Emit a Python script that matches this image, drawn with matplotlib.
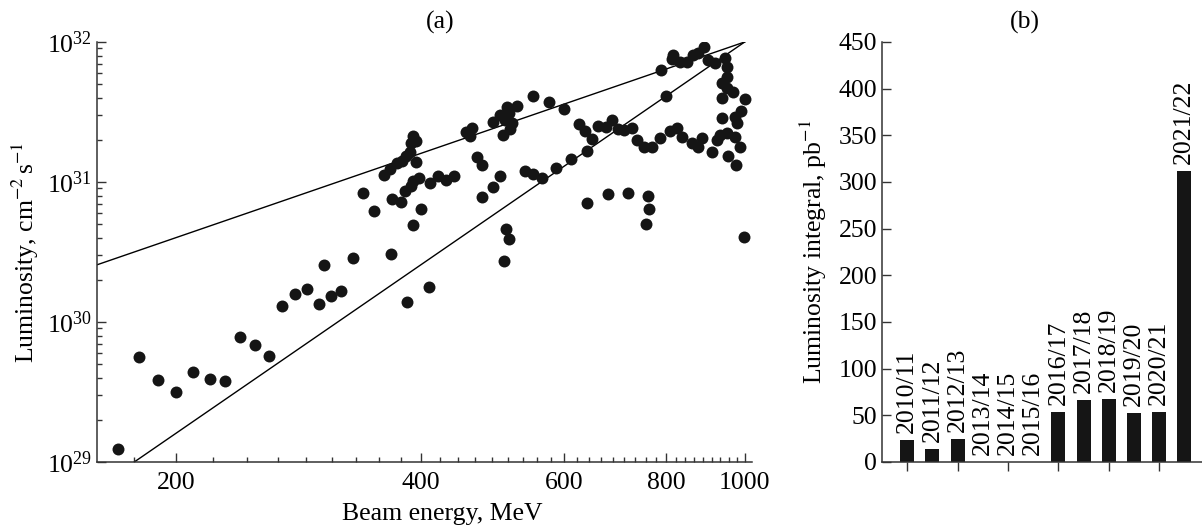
import numpy as np
import matplotlib
matplotlib.use('Agg')
import matplotlib.pyplot as plt
from matplotlib.ticker import FixedLocator, FuncFormatter, LogLocator, NullFormatter

plt.rcParams['font.family'] = ['Liberation Serif', 'DejaVu Serif']
plt.rcParams['mathtext.fontset'] = 'stix'
plt.rcParams['font.size'] = 18.5

# (a) luminosity vs beam energy
energy = [170, 180, 190, 200, 210, 220, 230, 240, 250, 260,
          270, 280, 290, 300, 304, 310, 319, 330, 340, 350,
          360, 367, 368, 369, 374, 378, 379, 382, 384, 385,
          388, 389, 389, 391, 391, 391, 394, 395, 398, 400,
          409, 410, 420, 430, 439, 455, 459, 462, 469, 476,
          476, 490, 491, 500, 501, 505, 506, 508, 509, 510,
          513, 513, 515, 517, 525, 537, 549, 550, 563, 574,
          586, 599, 612, 625, 637, 640, 640, 650, 661, 676,
          679, 686, 699, 711, 719, 726, 737, 751, 757, 760,
          763, 769, 786, 789, 800, 810, 814, 817, 825, 833,
          837, 849, 861, 865, 877, 877, 886, 890, 902, 911,
          919, 924, 933, 937, 937, 939, 946, 950, 951, 951,
          951, 955, 968, 973, 973, 976, 977, 987, 989, 998,
          1001]
# luminosity in units of 1e30 cm^-2 s^-1
lumi_1e30 = [0.124, 0.56, 0.385, 0.315, 0.44, 0.39, 0.38, 0.78, 0.69, 0.57,
             1.29, 1.59, 1.72, 1.34, 2.54, 1.53, 1.67, 2.85, 8.4, 6.2,
             11.2, 12.3, 3.05, 7.6, 13.6, 7.2, 14.2, 8.6, 15.2, 1.39,
             16.5, 18.9, 9.4, 10.2, 21.3, 4.9, 13.8, 19.7, 10.7, 6.4,
             1.79, 9.8, 11.1, 10.3, 11.1, 22.9, 21.3, 24.2, 15.0, 13.2,
             7.85, 9.2, 27.0, 11.0, 30.1, 21.7, 2.74, 27.7, 4.6, 34.2,
             31.0, 3.9, 23.8, 26.3, 34.9, 11.9, 41.1, 11.4, 10.6, 37.5,
             12.5, 33.2, 14.5, 25.8, 23.1, 16.7, 7.1, 20.2, 25.1, 24.8,
             8.2, 27.7, 23.8, 23.5, 8.4, 24.2, 20.0, 17.9, 5.0, 7.9,
             6.4, 17.9, 20.5, 63.1, 41.1, 23.1, 75.2, 80.7, 24.2, 72.3,
             21.1, 72.3, 18.9, 80.7, 83.9, 17.9, 20.5, 92.5, 74.4, 16.5,
             70.4, 20.0, 21.7, 50.7, 40.0, 28.5, 76.5, 56.5, 66.6, 46.7,
             22.3, 15.2, 44.2, 29.3, 20.9, 13.2, 26.3, 17.9, 32.3, 4.07,
             39.0]

# reference lines ~E^2 and ~E^4, end points
line_e2_energy = [160, 1000]
line_e2_lumi = [2.56e30, 1e32]
line_e4_energy = [177.8, 1000]
line_e4_lumi = [1e29, 1e32]

# (b) integrated luminosity per season
seasons = ['2010/11', '2011/12', '2012/13', '2013/14', '2014/15', '2015/16',
           '2016/17', '2017/18', '2018/19', '2019/20', '2020/21', '2021/22']
integral = [24, 14, 25, 0, 0, 0, 54, 66, 68, 53, 54, 312]

fig = plt.figure(figsize=(12.02, 5.29), dpi=100)
ax1 = fig.add_axes([0.0807, 0.1267, 0.545, 0.794])
ax2 = fig.add_axes([0.7338, 0.1267, 0.2662, 0.794])

lumi = np.array(lumi_1e30) * 1e30
ax1.scatter(energy, lumi, s=74, color='#151515', linewidths=0, zorder=3)
ax1.plot(line_e2_energy, line_e2_lumi, color='black', lw=1.0)
ax1.plot(line_e4_energy, line_e4_lumi, color='black', lw=1.0)

ax1.set_xscale('log')
ax1.set_yscale('log')
ax1.set_xlim(160, 1021)
ax1.set_ylim(1e29, 1e32)
ax1.xaxis.set_major_locator(FixedLocator([200, 400, 600, 800, 1000]))
ax1.xaxis.set_major_formatter(FuncFormatter(lambda v, p: f'{v:.0f}'))
minor_x = [177.8]
for a in (200, 400, 600, 800):
    minor_x += list(np.linspace(a, a + 200, 10)[1:-1])
ax1.xaxis.set_minor_locator(FixedLocator(minor_x))
ax1.xaxis.set_minor_formatter(NullFormatter())
ax1.yaxis.set_major_locator(LogLocator(base=10, numticks=10))
ax1.yaxis.set_minor_locator(LogLocator(base=10, subs=np.arange(2, 10), numticks=10))
ax1.yaxis.set_minor_formatter(NullFormatter())
ax1.set_xlabel('Beam energy, MeV', labelpad=7)
ax1.xaxis.label.set_x(0.527)
ax1.set_ylabel('Luminosity, cm$^{-2}\\,$s$^{-1}$', labelpad=4)

ax2.bar(range(len(seasons)), integral, width=0.56, color='#151515')
for i, v in enumerate(integral):
    ax2.annotate(seasons[i], (i, v), xytext=(0, 5), textcoords='offset points',
                 rotation=90, ha='center', va='bottom')
ax2.set_xlim(-1, 11.7)
ax2.set_ylim(0, 450)
ax2.set_yticks(np.arange(0, 451, 50))
ax2.set_xticks(range(0, 11, 2))
ax2.set_xticklabels([])
ax2.set_ylabel('Luminosity integral, pb$^{-1}$', labelpad=7)

for ax in (ax1, ax2):
    for s in ('top', 'right'):
        ax.spines[s].set_visible(False)
    for s in ('left', 'bottom'):
        ax.spines[s].set_color('#333333')
        ax.spines[s].set_linewidth(1.1)
ax1.tick_params(which='major', direction='in', length=6.5, width=1, color='#333333')
ax1.tick_params(which='minor', direction='in', length=3.6, width=1, color='#333333')
ax1.tick_params(axis='x', which='major', pad=7)
ax2.tick_params(axis='y', direction='in', length=6.5, width=1, color='#333333')
ax2.tick_params(axis='x', direction='out', length=6.5, width=1, color='#333333')

fig.text(440 / 1202, 1 - 22 / 529, '(a)', ha='center', va='center')
fig.text(1025 / 1202, 1 - 22 / 529, '(b)', ha='center', va='center')

fig.savefig('out.png', dpi=100)
